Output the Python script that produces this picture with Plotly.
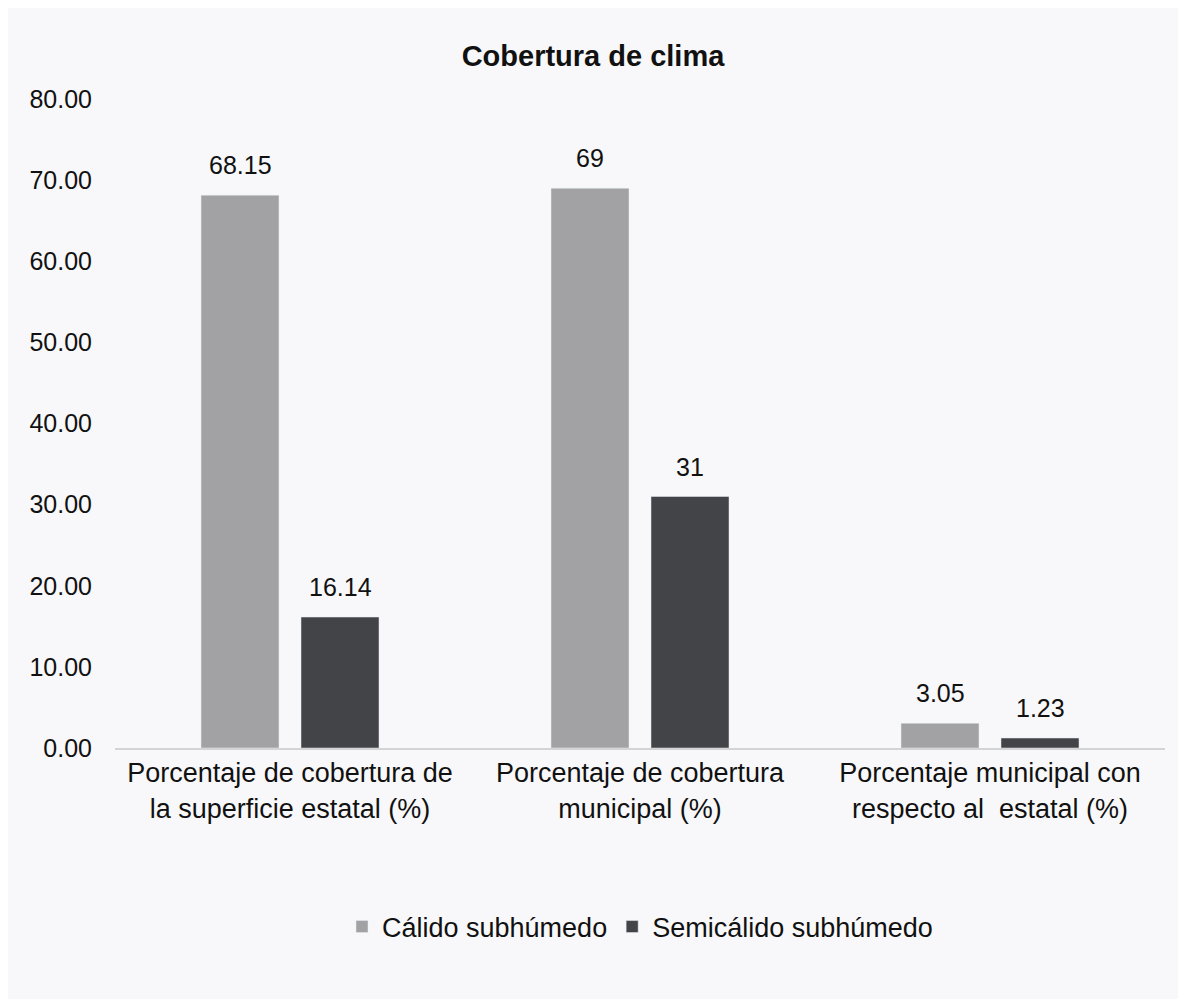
import plotly.graph_objects as go

categorias = [
    "Porcentaje de cobertura de<br>la superficie estatal (%)",
    "Porcentaje de cobertura<br>municipal (%)",
    "Porcentaje municipal con<br>respecto al  estatal (%)",
]
calido = [68.15, 69, 3.05]
semicalido = [16.14, 31, 1.23]
etiquetas_calido = ["68.15", "69", "3.05"]
etiquetas_semicalido = ["16.14", "31", "1.23"]

fuente = "Liberation Sans, Arial, sans-serif"

fig = go.Figure()
fig.add_trace(go.Bar(x=categorias, y=calido, name="Cálido subhúmedo", marker_color="#a2a2a4"))
fig.add_trace(go.Bar(x=categorias, y=semicalido, name="Semicálido subhúmedo", marker_color="#424447"))

# etiquetas de datos un poco separadas de la barra, como en el original
for serie, etiquetas, desplaz in [(calido, etiquetas_calido, -50), (semicalido, etiquetas_semicalido, 50)]:
    for cat, val, txt in zip(categorias, serie, etiquetas):
        fig.add_annotation(x=cat, y=val, text=txt, showarrow=False, xshift=desplaz,
                           yanchor="bottom", yshift=14, font=dict(size=25, color="#111111"))

# la página tiene 8 px de margen, por eso la figura es algo menor que la ventana
fig.update_layout(
    width=1170, height=991,
    margin=dict(l=107, r=13, t=91, b=251),
    paper_bgcolor="#f8f8fa", plot_bgcolor="#f8f8fa",
    font=dict(family=fuente, size=25, color="#111111"),
    title=dict(text="<b>Cobertura de clima</b>", x=0.5, xanchor="center",
               y=0.9516, yanchor="middle", font=dict(size=29, color="#111111")),
    barmode="group", bargap=0.4286, bargroupgap=0.22,
    legend=dict(orientation="h", x=0.5, xanchor="center", y=-0.2758, yanchor="middle",
                font=dict(size=27), bgcolor="rgba(0,0,0,0)", itemwidth=30),
    showlegend=True,
)
fig.update_yaxes(range=[0, 80], dtick=10, tickformat=".2f", showgrid=False,
                 zeroline=False, showline=False, ticks="", ticklen=0,
                 ticklabelstandoff=22, tickfont=dict(size=25))
fig.update_xaxes(showline=True, linecolor="#d4d4d6", linewidth=2, ticks="",
                 tickfont=dict(size=27), showgrid=False)

fig.write_html("out.html")
